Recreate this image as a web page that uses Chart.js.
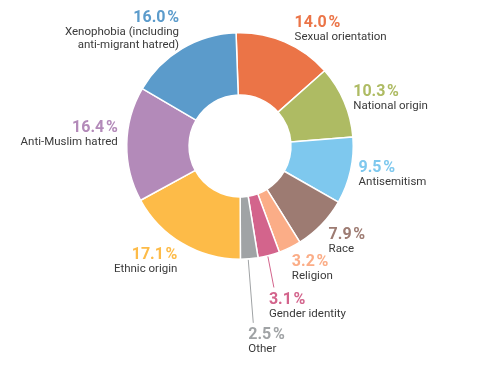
<!DOCTYPE html>
<html>
<head>
<meta charset="utf-8">
<script src="https://cdn.jsdelivr.net/npm/chart.js@4"></script>
<style>
    html, body { margin: 0; padding: 0; background: #fff; }
    #wrap { width: 482px; height: 381px; position: relative; }
</style>
</head>
<body>
<div id="wrap"><canvas id="donutChart"></canvas></div>
<script>
// categories, clockwise from the top
const categories = [
    ['Sexual orientation'],
    ['National origin'],
    ['Antisemitism'],
    ['Race'],
    ['Religion'],
    ['Gender identity'],
    ['Other'],
    ['Ethnic origin'],
    ['Anti-Muslim hatred'],
    ['Xenophobia (including', 'anti-migrant hatred)']
];
const shares = [14.0, 10.3, 9.5, 7.9, 3.2, 3.1, 2.5, 17.1, 16.4, 16.0];
const colours = ['#eb7447', '#aebb63', '#7ec8ee', '#9d7b72', '#fbad87',
    '#d3648c', '#a0a3a5', '#fdbb48', '#b38ab9', '#5b9bcb'];

// label nudges from the outer edge of each slice (layout only)
const labelNudge = [[10, -15], [9, -6], [8, 1], [7, 14], [2, 18], [0, 48], [-1, 80], [-5, 16], [-9, -12], [-3, -27]];
const leaderLines = [5, 6];

const outsideLabels = {
    id: 'outsideLabels',
    afterDraw(chart) {
        const ctx = chart.ctx;
        const meta = chart.getDatasetMeta(0);
        meta.data.forEach(function (arc, i) {
            const mid = (arc.startAngle + arc.endAngle) / 2;
            const ex = arc.x + Math.cos(mid) * arc.outerRadius;
            const ey = arc.y + Math.sin(mid) * arc.outerRadius;
            const tx = ex + labelNudge[i][0];
            const ty = ey + labelNudge[i][1];
            const right = Math.cos(mid) < -0.1;

            ctx.save();
            if (leaderLines.includes(i)) {
                ctx.strokeStyle = colours[i];
                ctx.lineWidth = 1;
                ctx.beginPath();
                ctx.moveTo(ex - 1, ey + 1);
                ctx.lineTo(tx + 5, ty - 16);
                ctx.stroke();
            }
            ctx.textAlign = right ? 'right' : 'left';
            ctx.textBaseline = 'alphabetic';
            ctx.fillStyle = colours[i];
            ctx.font = 'bold 16px Roboto';
            ctx.fillText(shares[i].toFixed(1) + '\u200a%', tx, ty);
            ctx.fillStyle = '#3a3a3a';
            ctx.font = '11.5px Roboto';
            categories[i].forEach(function (line, k) {
                ctx.fillText(line, tx, ty + 13 + k * 13);
            });
            ctx.restore();
        });
    }
};

new Chart(document.getElementById('donutChart'), {
    type: 'doughnut',
    data: {
        labels: categories.map(c => c.join(' ')),
        datasets: [{
            data: shares,
            backgroundColor: colours,
            borderColor: '#ffffff',
            borderWidth: 1.5
        }]
    },
    options: {
        responsive: true,
        maintainAspectRatio: false,
        animation: false,
        rotation: -2,
        cutout: '45%',
        layout: { padding: { top: 32, bottom: 121, left: 98, right: 100 } },
        plugins: {
            legend: { display: false },
            tooltip: { enabled: false }
        }
    },
    plugins: [outsideLabels]
});
</script>
</body>
</html>
